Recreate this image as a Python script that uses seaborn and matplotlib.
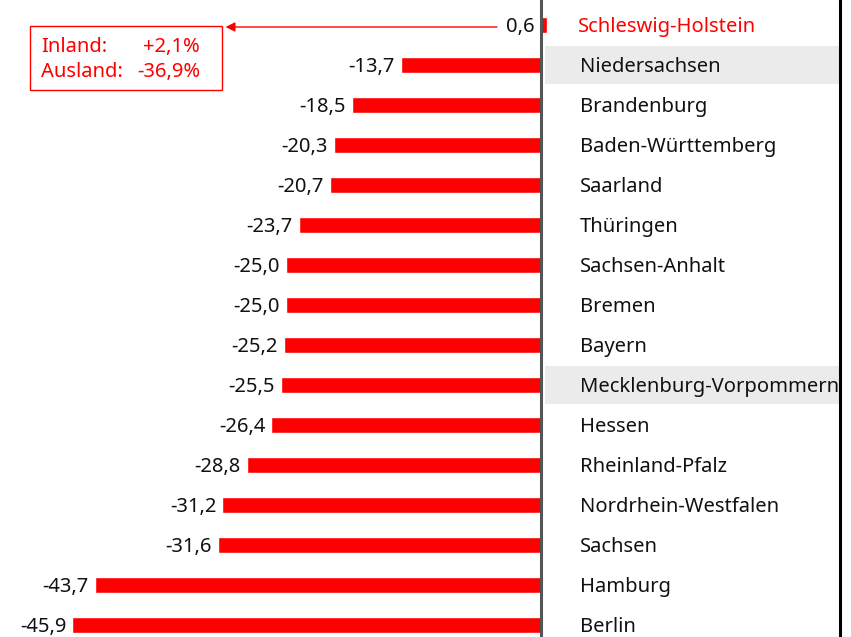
import matplotlib
matplotlib.use('Agg')
import matplotlib.pyplot as plt
from matplotlib.patches import Rectangle
import seaborn as sns
import pandas as pd

states = ['Schleswig-Holstein', 'Niedersachsen', 'Brandenburg', 'Baden-Württemberg',
          'Saarland', 'Thüringen', 'Sachsen-Anhalt', 'Bremen', 'Bayern',
          'Mecklenburg-Vorpommern', 'Hessen', 'Rheinland-Pfalz',
          'Nordrhein-Westfalen', 'Sachsen', 'Hamburg', 'Berlin']
change = [0.6, -13.7, -18.5, -20.3, -20.7, -23.7, -25.0, -25.0, -25.2,
          -25.5, -26.4, -28.8, -31.2, -31.6, -43.7, -45.9]
shaded = ['Niedersachsen', 'Mecklenburg-Vorpommern']
highlight = 'Schleswig-Holstein'
box_labels = ['Inland:', 'Ausland:']
box_values = ['+2,1%', '-36,9%']

df = pd.DataFrame({'state': states, 'change': change})

sns.set_style('white')
plt.rcParams['font.family'] = ['Noto Sans', 'DejaVu Sans']

fig = plt.figure(figsize=(8.51, 6.37), dpi=100)
ax = fig.add_axes([0, 0, 1, 1])

# gray row bands behind selected states
for s in shaded:
    i = states.index(s)
    ax.axhspan(i - 0.47, i + 0.47, xmin=545 / 851, xmax=840 / 851,
               color='#ebebeb', lw=0, zorder=0)

sns.barplot(data=df, x='change', y='state', color='#ff0000', width=0.4,
            orient='h', ax=ax, saturation=1, zorder=2)

ax.set_xlim(-53.0, 30.4)
ax.set_ylim(15.3, -0.625)
ax.axvline(0, color='#555555', lw=2.2, zorder=3)
ax.axvline(29.3, color='black', lw=2.2, zorder=3)

fs = 14.5
for i, (s, v) in enumerate(zip(states, change)):
    lbl = f'{v:.1f}'.replace('.', ',')
    ax.text(min(v, 0) - 0.6, i + 0.04, lbl, ha='right', va='center',
            fontsize=fs, color='#111111')
    col = '#ff0000' if s == highlight else '#111111'
    xs = 3.6 if s == highlight else 3.8
    ax.text(xs, i + 0.04, s, ha='left', va='center', fontsize=fs, color=col)

# annotation box with arrow
ax.add_patch(Rectangle((-50.1, 0.025), 18.9, 1.6, fill=False,
                       edgecolor='#ff0000', lw=1.0, zorder=4))
for j, (a, b) in enumerate(zip(box_labels, box_values)):
    y = 0.55 + j * 0.62
    ax.text(-49.0, y, a, ha='left', va='center', fontsize=fs, color='#ff0000')
    ax.text(-33.4, y, b, ha='right', va='center', fontsize=fs, color='#ff0000')
ax.annotate('', xy=(-30.9, 0.05), xytext=(-4.3, 0.05),
            arrowprops=dict(arrowstyle='-|>', color='#ff0000', lw=1.0,
                            mutation_scale=14, shrinkA=0, shrinkB=0))

ax.axis('off')
plt.savefig('out.png', dpi=100)
plt.close()
